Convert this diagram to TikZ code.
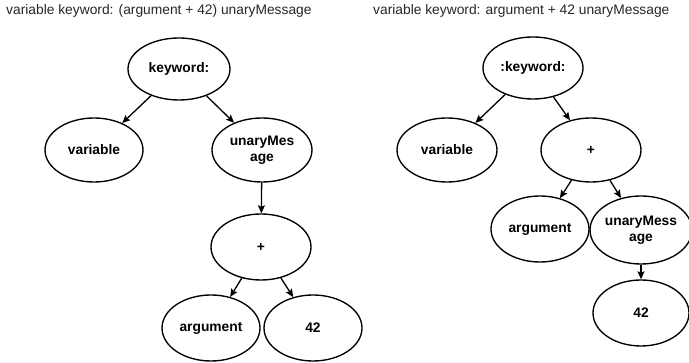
\documentclass[tikz,border=0pt]{standalone}
\usepackage{fontspec}
\setmainfont{Liberation Sans}
\usetikzlibrary{shapes.geometric,arrows.meta}
\begin{document}
\begin{tikzpicture}[x=1pt,y=-1pt,
  tnode/.style={ellipse,draw,line width=1.35pt,inner sep=0pt,
    minimum width=100pt,minimum height=64pt,align=center,
    font=\fontsize{13.8}{16.5}\selectfont\bfseries},
  edge/.style={line width=1.3pt,-{Stealth[length=8pt,width=7pt,inset=1.5pt]}},
  caption/.style={anchor=base west,inner sep=0pt,text=black!85,
    font=\fontsize{13.8}{16.5}\selectfont}]
\useasboundingbox (0,0) rectangle (689,363);

% left tree: variable keyword: (argument + 42) unaryMessage
\node[caption] (tl) at (6,15) {variable keyword: (argument + 42) unaryMessage};
\node[tnode,minimum width=102pt,minimum height=62pt] (lkw) at (179,69) {keyword:};
\node[tnode,minimum width=98pt] (lvar) at (94,150) {variable};
\node[tnode] (lun) at (262,150) {unaryMes\\age};
\node[tnode,minimum height=66pt] (lplus) at (261,247) {+};
\node[tnode,minimum width=98pt,minimum height=66pt] (larg) at (211,328) {argument};
\node[tnode,minimum width=98pt,minimum height=66pt] (l42) at (313,328) {42};
\draw[edge] (lkw) -- (lvar);
\draw[edge] (lkw) -- (lun);
\draw[edge] (lun) -- (lplus);
\draw[edge] (lplus) -- (larg);
\draw[edge] (lplus) -- (l42);

% right tree: variable keyword: argument + 42 unaryMessage
\node[caption] (tr) at (373,15) {variable keyword: argument + 42 unaryMessage};
\node[tnode,minimum height=62pt] (rkw) at (533,68) {:keyword:};
\node[tnode] (rvar) at (447,150) {variable};
\node[tnode] (rplus) at (591,150) {+};
\node[tnode,minimum width=98pt,minimum height=66pt] (rarg) at (540,229) {argument};
\node[tnode,minimum width=96pt,minimum height=68pt] (run) at (641,230) {unaryMess\\age};
\node[tnode,minimum width=96pt,minimum height=66pt] (r42) at (641,313) {42};
\draw[edge] (rkw) -- (rvar);
\draw[edge] (rkw) -- (rplus);
\draw[edge] (rplus) -- (rarg);
\draw[edge] (rplus) -- (run);
\draw[edge] (run) -- (r42);
\end{tikzpicture}
\end{document}
